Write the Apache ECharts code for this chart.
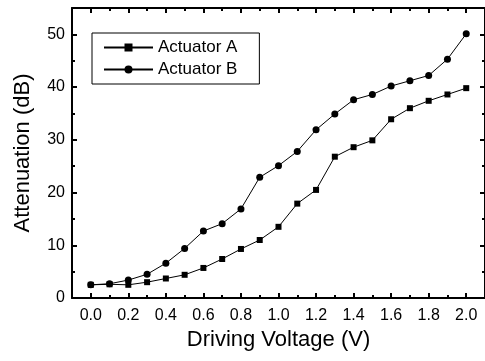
<!DOCTYPE html>
<html>
<head>
<meta charset="utf-8">
<script src="https://cdn.jsdelivr.net/npm/echarts@6/dist/echarts.min.js"></script>
<style>
  html, body { margin: 0; padding: 0; background: #fff; }
  #chart { width: 485px; height: 361px; }
</style>
</head>
<body>
<div id="chart"></div>
<script>
// driving voltage (V)
const voltage = [0.0, 0.1, 0.2, 0.3, 0.4, 0.5, 0.6, 0.7, 0.8, 0.9, 1.0,
                 1.1, 1.2, 1.3, 1.4, 1.5, 1.6, 1.7, 1.8, 1.9, 2.0]
// attenuation (dB)
const actuatorA = [2.5, 2.6, 2.5, 3.0, 3.7, 4.4, 5.7, 7.4, 9.3, 11.0, 13.5,
                   17.9, 20.5, 26.8, 28.6, 29.9, 33.9, 36.0, 37.4, 38.6, 39.8]
const actuatorB = [2.5, 2.7, 3.4, 4.5, 6.6, 9.4, 12.7, 14.1, 16.9, 22.9, 25.1,
                   27.8, 31.9, 34.9, 37.6, 38.6, 40.2, 41.2, 42.2, 45.3, 50.1]

const xMajor = [0.0, 0.2, 0.4, 0.6, 0.8, 1.0, 1.2, 1.4, 1.6, 1.8, 2.0]
const xMinor = [0.1, 0.3, 0.5, 0.7, 0.9, 1.1, 1.3, 1.5, 1.7, 1.9]
const yMajor = [0, 10, 20, 30, 40, 50]
const yMinor = [5, 15, 25, 35, 45]

const font = 'Liberation Sans, Arial, sans-serif'
const black = '#000'

const xBase = { type: 'value', min: -0.1, max: 2.1, splitLine: { show: false } }
const yBase = { type: 'value', min: 0, max: 55, splitLine: { show: false } }

const tickAxis = (base, position, ticks, len, withLine, extra) => ({
    ...base,
    position,
    axisLine: { show: withLine, onZero: false, lineStyle: { color: black, width: 2 } },
    axisTick: { show: true, inside: true, length: len, customValues: ticks, lineStyle: { color: black, width: 2 } },
    axisLabel: { show: false },
    ...extra,
})

const chart = echarts.init(document.getElementById('chart'), null, { renderer: 'canvas' })

chart.setOption({
    animation: false,
    backgroundColor: '#fff',
    textStyle: { fontFamily: font, color: black },
    grid: { left: 72, top: 8, width: 415, bottom: 63, containLabel: false },
    legend: {
        left: 92,
        top: 33,
        orient: 'vertical',
        itemWidth: 49,
        itemHeight: 10,
        itemGap: 5,
        padding: [6, 22, 6, 11],
        borderColor: black,
        borderWidth: 1,
        textStyle: { fontSize: 17, fontFamily: font, color: black, lineHeight: 17 },
        data: ['Actuator A', 'Actuator B'],
    },
    xAxis: [
        tickAxis(xBase, 'bottom', xMajor, 5, true, {
            axisLabel: {
                show: true, customValues: xMajor, fontSize: 16, color: black, fontFamily: font, margin: 10,
                formatter: (v) => v.toFixed(1),
            },
            name: 'Driving Voltage (V)',
            nameLocation: 'middle',
            nameGap: 31,
            nameTextStyle: { fontSize: 22, color: black, fontFamily: font },
        }),
        tickAxis(xBase, 'bottom', xMinor, 3, false, {}),
        tickAxis(xBase, 'top', xMajor, 5, true, {}),
        tickAxis(xBase, 'top', xMinor, 3, false, {}),
    ],
    yAxis: [
        tickAxis(yBase, 'left', yMajor, 5, true, {
            axisLabel: { show: true, customValues: yMajor, fontSize: 16, color: black, fontFamily: font, margin: 7 },
            name: 'Attenuation (dB)',
            nameLocation: 'middle',
            nameGap: 38,
            nameTextStyle: { fontSize: 22, color: black, fontFamily: font },
        }),
        tickAxis(yBase, 'left', yMinor, 3, false, {}),
        tickAxis(yBase, 'right', yMajor, 5, true, {}),
        tickAxis(yBase, 'right', yMinor, 3, false, {}),
    ],
    series: [
        {
            name: 'Actuator A',
            type: 'line',
            xAxisIndex: 0,
            yAxisIndex: 0,
            symbol: 'rect',
            symbolSize: 6,
            lineStyle: { color: black, width: 1 },
            itemStyle: { color: black },
            data: voltage.map((v, i) => [v, actuatorA[i]]),
        },
        {
            name: 'Actuator B',
            type: 'line',
            xAxisIndex: 0,
            yAxisIndex: 0,
            symbol: 'circle',
            symbolSize: 7,
            lineStyle: { color: black, width: 1 },
            itemStyle: { color: black },
            data: voltage.map((v, i) => [v, actuatorB[i]]),
        },
    ],
})
</script>
</body>
</html>
